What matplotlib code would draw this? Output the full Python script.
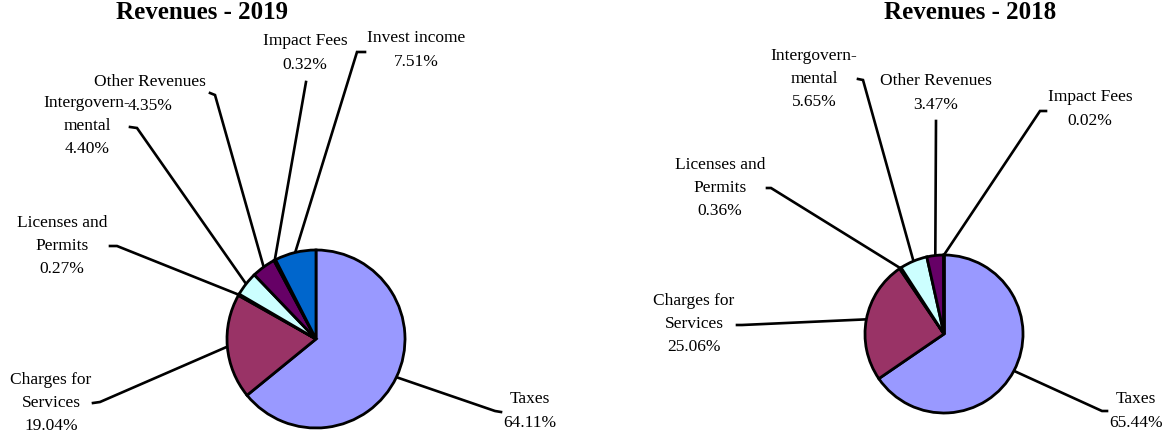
import matplotlib
matplotlib.use("Agg")
import matplotlib.pyplot as plt
import numpy as np

# ---- data ----
categories_2019 = ["Taxes", "Charges for\nServices", "Licenses and\nPermits",
                   "Intergovern-\nmental", "Other Revenues", "Impact Fees", "Invest income"]
values_2019 = [64.11, 19.04, 0.27, 4.40, 4.35, 0.32, 7.51]

categories_2018 = ["Taxes", "Charges for\nServices", "Licenses and\nPermits",
                   "Intergovern-\nmental", "Other Revenues", "Impact Fees"]
values_2018 = [65.44, 25.06, 0.36, 5.65, 3.47, 0.02]

colors = ["#9999FF", "#993366", "#FFFFCC", "#CCFFFF", "#660066", "#FF8080", "#0066CC"]

# ---- layout (pixel coordinates, y from top) ----
W, H = 1166, 436
FONT = "Liberation Serif"

layout_2019 = dict(
    center=(316, 339), radius=89, title="Revenues - 2019", title_pos=(202, 13),
    # text block center, hook start (near text), elbow
    labels=[((530, 411), (501, 412), (495, 411)),
            ((51, 403), (93, 403), (100, 402)),
            ((62, 246), (110, 246), (117, 246)),
            ((87, 126), (130, 127), (137, 128)),
            ((150, 94), (210, 93), (215, 95)),
            ((305, 53), (306, 82), (306, 82)),
            ((416, 50), (365, 52), (357, 52))])

layout_2018 = dict(
    center=(944, 334), radius=79, title="Revenues - 2018", title_pos=(970, 13),
    labels=[((1136, 411), (1107, 411), (1102, 411)),
            ((694, 324), (737, 325), (742, 325)),
            ((720, 188), (767, 188), (771, 188)),
            ((814, 79), (858, 79), (863, 80)),
            ((936, 93), (936, 121), (936, 121)),
            ((1090, 109), (1046, 111), (1040, 111))])


def Y(y):
    return H - y


fig = plt.figure(figsize=(W / 100, H / 100), dpi=100)
ax = fig.add_axes([0, 0, 1, 1])


def draw(cats, vals, lay):
    cx, cy = lay["center"]
    r = lay["radius"]
    wedges, _ = ax.pie(vals, colors=colors[:len(vals)], startangle=90, counterclock=False,
                       center=(cx, Y(cy)), radius=r, frame=True,
                       wedgeprops=dict(edgecolor="black", linewidth=2.0))
    for w in wedges:
        w.set_zorder(3)
    for w, cat, val, (tpos, hook, elbow) in zip(wedges, cats, vals, lay["labels"]):
        th = np.deg2rad((w.theta1 + w.theta2) / 2)
        px = cx + r * np.cos(th)
        py = Y(cy) + r * np.sin(th)
        ax.plot([hook[0], elbow[0], px], [Y(hook[1]), Y(elbow[1]), py],
                color="black", lw=1.9, solid_joinstyle="miter", zorder=2)
        ax.text(tpos[0], Y(tpos[1]), f"{cat}\n{val:.2f}%", ha="center", va="center",
                multialignment="center", fontsize=12.5, family=FONT,
                linespacing=1.6, zorder=4)
    ax.text(lay["title_pos"][0], Y(lay["title_pos"][1]), lay["title"], ha="center",
            va="center", fontsize=18, fontweight="bold", family=FONT)


draw(categories_2019, values_2019, layout_2019)
draw(categories_2018, values_2018, layout_2018)

ax.set_xlim(0, W)
ax.set_ylim(0, H)
ax.set_aspect("auto")
ax.axis("off")

fig.savefig("out.png", dpi=100)
